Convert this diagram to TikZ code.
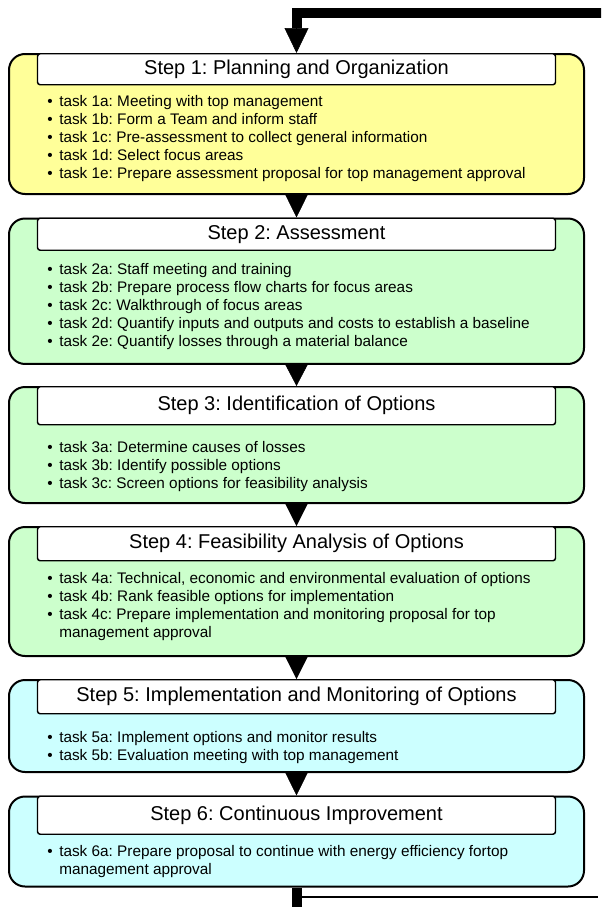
\documentclass[tikz,border=0pt]{standalone}
\usepackage{fontspec}
\setmainfont{Liberation Sans}
\usetikzlibrary{arrows.meta}
\frenchspacing

\definecolor{planyellow}{RGB}{255,255,153}
\definecolor{auditgreen}{RGB}{204,255,204}
\definecolor{actioncyan}{RGB}{204,255,255}

\tikzset{
    stepbox/.style={draw, line width=1.5pt, rounded corners=12pt, minimum width=431.25pt, anchor=north, inner sep=0pt},
    steptitle/.style={draw, fill=white, line width=1.1pt, rounded corners=2pt, minimum width=388.5pt, anchor=north, inner sep=0pt, font=\fontsize{15}{18}\selectfont},
    tasklist/.style={anchor=north west, align=left, inner sep=0pt, font=\fontsize{11.5}{13.5}\selectfont},
    flow/.style={line width=0.4pt, -{Triangle[length=#1, width=18pt]}},
    flow/.default=18pt,
    loopline/.style={line width=7.5pt, line join=miter}
}
\newcommand{\tsk}[1]{\textbullet\hspace{5pt}#1}
\newcommand{\tskmore}[1]{\phantom{\textbullet\hspace{5pt}}#1}

\begin{document}
\begin{tikzpicture}[x=0.75pt, y=-0.75pt]
    \clip (0,0) rectangle (601,907);

    % step 1
    \node[stepbox, fill=planyellow, minimum height=105pt] (s1) at (296.5,53) {};
    \node[steptitle, minimum height=23.25pt] (t1) at (296.5,53) {Step 1: Planning and Organization};
    \node[tasklist] (k1) at (47,94.8) {\tsk{task 1a: Meeting with top management}\\
        \tsk{task 1b: Form a Team and inform staff}\\
        \tsk{task 1c: Pre-assessment to collect general information}\\
        \tsk{task 1d: Select focus areas}\\
        \tsk{task 1e: Prepare assessment proposal for top management approval}};

    % step 2
    \node[stepbox, fill=auditgreen, minimum height=109.1pt] (s2) at (296.5,217.5) {};
    \node[steptitle, minimum height=24pt] (t2) at (296.5,217.5) {Step 2: Assessment};
    \node[tasklist] (k2) at (47,263.2) {\tsk{task 2a: Staff meeting and training}\\
        \tsk{task 2b: Prepare process flow charts for focus areas}\\
        \tsk{task 2c: Walkthrough of focus areas}\\
        \tsk{task 2d: Quantify inputs and outputs and costs to establish a baseline}\\
        \tsk{task 2e: Quantify losses through a material balance}};

    % step 3
    \node[stepbox, fill=auditgreen, minimum height=87pt] (s3) at (296.5,386) {};
    \node[steptitle, minimum height=28.5pt] (t3) at (296.5,386) {Step 3: Identification of Options};
    \node[tasklist] (k3) at (47,441.5) {\tsk{task 3a: Determine causes of losses}\\
        \tsk{task 3b: Identify possible options}\\
        \tsk{task 3c: Screen options for feasibility analysis}};

    % step 4
    \node[stepbox, fill=auditgreen, minimum height=96.75pt] (s4) at (296.5,526) {};
    \node[steptitle, minimum height=25.5pt] (t4) at (296.5,526) {Step 4: Feasibility Analysis of Options};
    \node[tasklist] (k4) at (47,572.2) {\tsk{task 4a: Technical, economic and environmental evaluation of options}\\
        \tsk{task 4b: Rank feasible options for implementation}\\
        \tsk{task 4c: Prepare implementation and monitoring proposal for top}\\
        \tskmore{management approval}};

    % step 5
    \node[stepbox, fill=actioncyan, minimum height=69pt] (s5) at (296.5,679) {};
    \node[steptitle, minimum height=25.5pt] (t5) at (296.5,679) {Step 5: Implementation and Monitoring of Options};
    \node[tasklist] (k5) at (47,731.2) {\tsk{task 5a: Implement options and monitor results}\\
        \tsk{task 5b: Evaluation meeting with top management}};

    % step 6
    \node[stepbox, fill=actioncyan, minimum height=67.5pt] (s6) at (296.5,795.5) {};
    \node[steptitle, minimum height=28.5pt] (t6) at (296.5,795.5) {Step 6: Continuous Improvement};
    \node[tasklist] (k6) at (47,845.2) {\tsk{task 6a: Prepare proposal to continue with energy efficiency fortop}\\
        \tskmore{management approval}};

    % arrows between the steps
    \draw[flow=18.375pt] (s1.south) -- (t2.north);
    \draw[flow=17.25pt] (s2.south) -- (t3.north);
    \draw[flow] (s3.south) -- (t4.north);
    \draw[flow] (s4.south) -- (t5.north);
    \draw[flow=18.375pt] (s5.south) -- (t6.north);

    % loop back to step 1
    \coordinate (loopin) at (620,12.5);
    \coordinate (loopturn) at (296.5,12.5);
    \coordinate (loophead) at (296.5,28);
    \draw[loopline] (loopin) -- (loopturn) -- (loophead);
    \draw[flow=18.75pt] (loophead) -- (t1.north);

    \coordinate (tail) at (296.5,920);
    \coordinate (tailturn) at (296.5,897);
    \coordinate (tailend) at (598,897);
    \draw[loopline] (s6.south) -- (tail);
    \draw[line width=0.8pt] (tailturn) -- (tailend);
\end{tikzpicture}
\end{document}
